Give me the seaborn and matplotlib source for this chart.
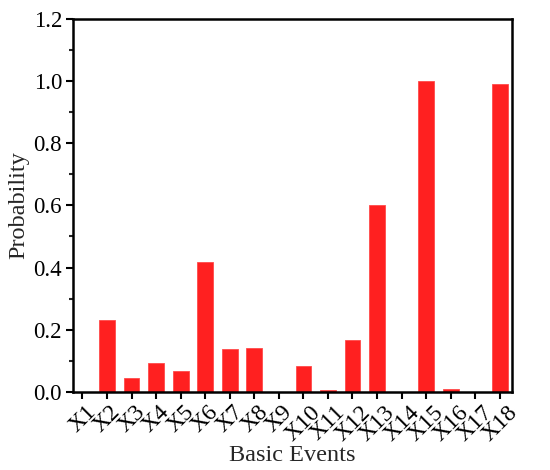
import numpy as np
import pandas as pd
import seaborn as sns
import matplotlib.pyplot as plt
from matplotlib.ticker import MultipleLocator

# === data ===
events = [f"X{i}" for i in range(1, 19)]
probability = [0.0, 0.232, 0.045, 0.092, 0.068, 0.418, 0.137, 0.142, 0.0,
               0.082, 0.006, 0.166, 0.601, 0.0, 1.0, 0.010, 0.0, 0.989]

df = pd.DataFrame({"Event": events, "Probability": probability})

sns.set_style("ticks")
plt.rcParams["font.family"] = ["Liberation Serif", "DejaVu Serif"]

fig = plt.figure(figsize=(5.5, 4.7), dpi=100)
ax = fig.add_axes([0.133, 0.166, 0.798, 0.794])

sns.barplot(data=df, x="Event", y="Probability", color="#ff2020",
            saturation=1, width=0.64, edgecolor="#ff4a4a", linewidth=0.6, ax=ax)

ax.set_xlim(-0.38, 17.5)
ax.set_ylim(0, 1.2)
ax.yaxis.set_major_locator(MultipleLocator(0.2))
ax.yaxis.set_minor_locator(MultipleLocator(0.1))
ax.yaxis.set_major_formatter(plt.FormatStrFormatter("%.1f"))

for s in ax.spines.values():
    s.set_linewidth(1.8)
    s.set_color("black")

ax.tick_params(axis="both", which="major", direction="out", length=5, width=1.5,
               colors="black")
ax.tick_params(axis="y", which="major", labelsize=16.5, pad=3)
ax.tick_params(axis="x", which="major", labelsize=17, pad=2)
ax.tick_params(axis="y", which="minor", direction="out", length=3, width=1.5)
for lab in ax.get_xticklabels():
    lab.set_rotation(45)
    lab.set_ha("center")
    lab.set_va("top")

ax.set_xlabel("Basic Events", fontsize=17.5, labelpad=0)
ax.set_ylabel("Probability", fontsize=17.5, labelpad=3)

fig.savefig("out.png", dpi=100)
